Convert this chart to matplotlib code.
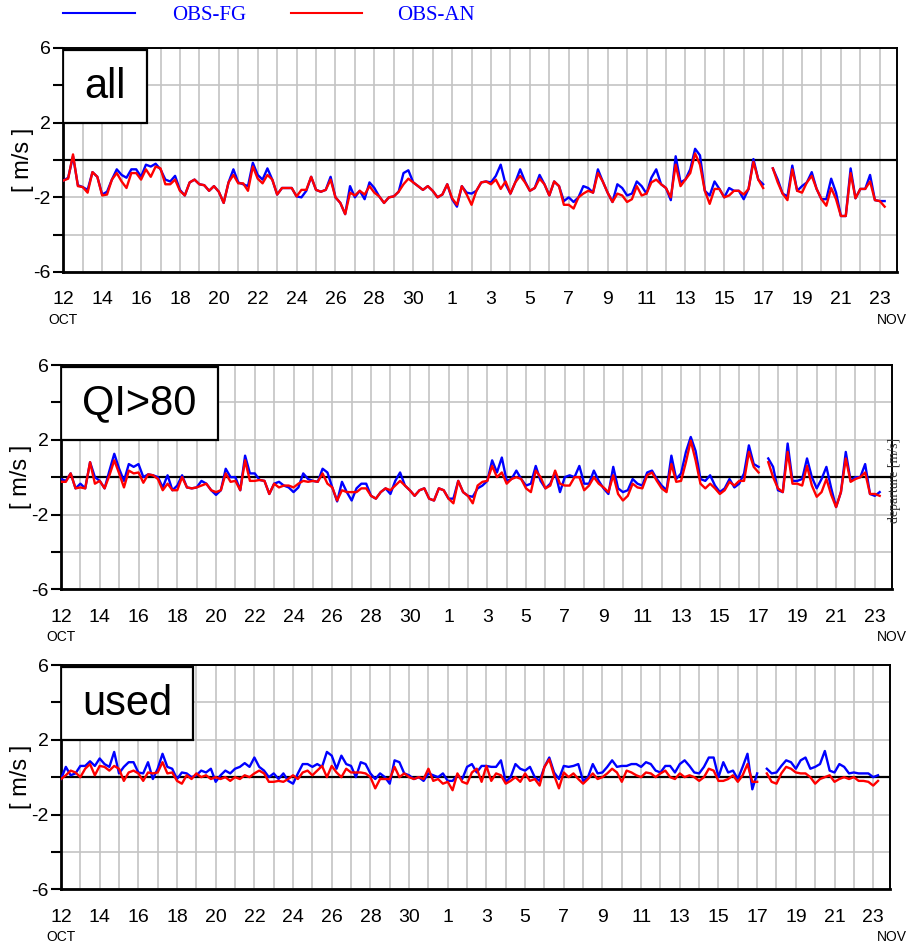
import numpy as np
import matplotlib
import matplotlib.pyplot as plt
from matplotlib.patches import Rectangle
from matplotlib.lines import Line2D

matplotlib.use("Agg")

plt.rcParams["font.family"] = ["Liberation Sans", "DejaVu Sans"]

nan = np.nan
STEP = 0.25  # 6-hourly samples, days since 12 Oct 00 UTC

# panel "all"
all_fg = [
    -1.1, -0.95, 0.2, -1.35,   -1.45, -1.6, -0.65, -0.9,   -1.85, -1.7, -1.05, -0.5,
    -0.8, -0.95, -0.5, -0.5,   -0.9, -0.25, -0.35, -0.2,   -0.5, -1.05, -1.15, -0.85,
    -1.6, -1.9, -1.2, -1.05,   -1.3, -1.35, -1.65, -1.4,   -1.7, -2.3, -1.2, -0.5,
    -1.2, -1.3, -1.4, -0.15,   -0.8, -1.05, -0.45, -1.05,  -1.85, -1.5, -1.5, -1.5,
    -1.95, -2.0, -1.65, -0.9,  -1.6, -1.7, -1.6, -0.9,     -2.0, -2.3, -2.9, -1.4,
    -2.0, -1.65, -2.1, -1.2,   -1.5, -1.95, -2.3, -2.0,    -1.95, -1.7, -0.7, -0.55,
    -1.2, -1.4, -1.6, -1.4,    -1.65, -2.0, -1.85, -1.3,   -2.1, -2.5, -1.4, -1.75,
    -1.8, -1.65, -1.2, -1.15,  -1.2, -0.85, -0.25, -1.3,   -1.8, -1.2, -0.5, -1.15,
    -1.65, -1.5, -0.8, -1.3,   -1.9, -1.15, -1.4, -2.2,    -2.0, -2.25, -2.0, -1.4,
    -1.5, -1.75, -0.5, -1.15,  -1.75, -2.25, -1.3, -1.5,   -1.9, -1.8, -1.15, -1.4,
    -1.8, -0.95, -0.5, -1.3,   -1.5, -2.15, 0.2, -1.2,     -1.05, -0.5, 0.6, 0.25,
    -1.65, -1.9, -1.15, -1.55, -2.0, -1.5, -1.65, -1.65,   -2.1, -1.55, 0.05, -1.05,
    -1.3, nan, -0.45, -1.05,   -1.8, -1.95, -0.3, -1.65,   -1.4, -1.2, -0.65, -1.55,
    -2.1, -2.1, -1.0, -1.75,   -3.0, -3.0, -0.45, -2.05,   -1.55, -1.55, -0.8, -2.15,
    -2.2, -2.2,
]
all_an = [
    -1.1, -1.0, 0.3, -1.4,     -1.45, -1.75, -0.65, -0.9,  -1.9, -1.85, -1.05, -0.7,
    -1.15, -1.5, -0.7, -0.7,   -1.05, -0.5, -0.9, -0.35,   -0.45, -1.3, -1.3, -1.05,
    -1.65, -1.9, -1.2, -1.05,  -1.3, -1.35, -1.65, -1.4,   -1.7, -2.3, -1.2, -0.8,
    -1.25, -1.25, -1.65, -0.35, -1.0, -1.25, -0.8, -1.05,  -1.85, -1.5, -1.5, -1.5,
    -1.95, -1.6, -1.6, -0.9,   -1.6, -1.7, -1.6, -1.05,    -2.0, -2.3, -2.9, -1.75,
    -1.9, -1.65, -1.85, -1.4,  -1.75, -1.95, -2.3, -2.0,   -1.95, -1.7, -1.3, -1.0,
    -1.2, -1.4, -1.6, -1.4,    -1.65, -2.0, -1.85, -1.3,   -2.05, -2.4, -1.4, -1.85,
    -2.4, -1.65, -1.2, -1.15,  -1.3, -1.05, -1.55, -1.15,  -1.8, -1.2, -0.85, -1.2,
    -1.65, -1.5, -1.0, -1.3,   -1.9, -1.15, -1.4, -2.4,    -2.4, -2.6, -2.0, -1.8,
    -1.65, -1.75, -0.7, -1.15, -1.75, -2.25, -1.8, -1.9,   -2.25, -2.1, -1.4, -1.9,
    -1.8, -1.2, -1.05, -1.3,   -1.5, -2.0, -0.25, -1.4,    -1.05, -0.7, 0.35, -0.25,
    -1.65, -2.35, -1.55, -1.55, -2.0, -1.9, -1.65, -1.65,  -1.85, -1.55, -0.1, -1.05,
    -1.5, nan, -0.45, -1.2,    -1.8, -2.15, -0.5, -1.65,   -1.75, -1.2, -0.85, -1.55,
    -2.1, -2.45, -1.5, -2.1,   -3.0, -3.0, -0.7, -2.05,    -1.55, -1.55, -1.15, -2.15,
    -2.2, -2.5,
]

# panel "QI>80"
qi_fg = [
    -0.1, -0.2, 0.2, -0.6,     -0.35, -0.6, 0.8, 0.0,      -0.2, -0.6, 0.35, 1.25,
    0.45, -0.2, 0.7, 0.55,     0.7, 0.0, 0.15, 0.1,        0.0, -0.55, 0.1, -0.7,
    -0.45, 0.1, -0.55, -0.6,   -0.55, -0.2, -0.35, -0.7,   -0.95, -0.7, 0.45, 0.0,
    0.0, -0.7, 1.15, 0.2,      0.2, -0.15, -0.2, -0.9,     -0.35, -0.25, -0.45, -0.55,
    -0.8, -0.55, 0.2, -0.1,    -0.2, -0.25, 0.45, 0.25,    -0.55, -1.3, -0.25, -0.8,
    -1.25, -0.6, -0.35, -0.35, -1.0, -1.15, -0.8, -0.6,    -0.9, -0.2, 0.25, -0.45,
    -0.7, -1.0, -0.7, -0.6,    -1.15, -1.25, -0.6, -0.7,   -1.15, -1.15, -0.2, -0.8,
    -1.0, -1.05, -0.6, -0.45,  -0.2, 0.9, 0.25, 1.05,      -0.2, -0.1, 0.35, -0.1,
    -0.45, -0.35, 0.6, -0.2,   -0.6, -0.35, 0.25, -0.8,    0.0, 0.1, 0.0, 0.6,
    -0.35, -0.35, 0.35, -0.2,  -0.6, -0.9, 0.55, -0.6,     -0.8, -0.7, -0.1, -0.35,
    -0.45, 0.25, 0.35, -0.1,   -0.45, -0.7, 1.15, -0.1,    0.2, 1.35, 2.15, 1.4,
    -0.1, -0.2, 0.1, -0.45,    -0.8, -0.6, -0.1, -0.55,    -0.35, 0.2, 1.7, 0.7,
    0.55, nan, 1.0, 0.55,      -0.7, -0.8, 1.8, -0.2,      -0.2, -0.1, 1.0, 0.0,
    -0.6, -0.1, 0.55, -0.6,    -1.6, -0.8, 1.35, -0.2,     0.0, 0.0, 0.7, -0.9,
    -1.0, -0.8,
]
qi_an = [
    -0.25, -0.25, 0.2, -0.6,   -0.55, -0.6, 0.8, -0.35,    -0.2, -0.6, 0.1, 0.9,
    0.2, -0.55, 0.35, 0.2,     0.25, -0.3, 0.15, 0.1,      -0.1, -0.7, -0.35, -0.7,
    -0.7, 0.0, -0.55, -0.6,    -0.55, -0.45, -0.35, -0.7,  -0.8, -0.7, 0.2, -0.25,
    -0.2, -0.7, 0.9, -0.2,     -0.2, -0.15, -0.2, -0.9,    -0.35, -0.55, -0.45, -0.45,
    -0.55, -0.35, -0.2, -0.25, -0.2, -0.25, 0.2, -0.35,    -0.55, -1.25, -0.7, -0.8,
    -0.8, -0.8, -0.6, -0.6,    -1.0, -1.15, -0.8, -0.6,    -0.7, -0.45, -0.2, -0.45,
    -0.7, -1.0, -0.7, -0.6,    -1.15, -1.25, -0.6, -0.7,   -1.15, -1.4, -0.2, -0.8,
    -1.0, -1.4, -0.45, -0.25,  -0.2, 0.6, 0.0, 0.25,       -0.35, -0.1, 0.0, -0.1,
    -0.6, -0.8, 0.35, 0.0,     -0.6, -0.45, 0.35, -0.35,   -0.45, -0.45, 0.0, 0.0,
    -0.7, -0.45, 0.0, -0.35,   -0.55, -0.8, 0.1, -0.9,     -1.25, -1.0, -0.35, -0.55,
    -0.6, 0.1, 0.25, -0.2,     -0.6, -0.8, 0.7, -0.25,     -0.2, 0.8, 1.95, 0.9,
    -0.35, -0.6, -0.35, -0.6,  -0.9, -0.7, -0.25, -0.45,   -0.2, -0.2, 1.35, 0.55,
    0.25, nan, 0.8, 0.0,       -0.6, -0.8, 1.35, -0.35,    -0.35, -0.45, 0.6, -0.45,
    -1.05, -0.8, -0.1, -0.95,  -1.6, -0.8, 1.0, -0.25,     -0.1, 0.0, 0.25, -0.9,
    -0.9, -1.0,
]

# panel "used"
used_fg = [
    -0.1, 0.55, 0.1, 0.2,      0.6, 0.6, 0.85, 0.6,        1.0, 0.7, 0.55, 1.35,
    0.2, 0.55, 0.8, 0.8,       0.25, 0.2, 0.8, -0.1,       0.45, 1.25, 0.55, 0.45,
    -0.1, 0.25, 0.2, 0.0,      0.1, 0.35, 0.25, 0.45,      -0.25, 0.1, 0.35, 0.2,
    0.45, 0.55, 0.75, 0.55,    1.05, 0.55, 0.35, 0.0,      0.2, -0.1, 0.2, -0.2,
    -0.35, 0.2, 0.7, 0.7,      0.55, 0.7, 0.55, 1.35,      1.15, 0.45, 1.15, 0.7,
    0.6, 0.0, 0.8, 0.7,        0.2, -0.1, 0.2, 0.0,        -0.35, 0.9, 0.8, 0.2,
    0.1, -0.1, 0.0, -0.2,      0.2, 0.1, 0.0, 0.2,         -0.2, -0.2, 0.1, -0.1,
    0.55, 0.7, 0.25, 0.6,      0.6, 0.55, 0.55, 0.9,       -0.25, 0.0, 0.7, 0.45,
    0.35, 0.55, 0.0, -0.2,     0.55, 1.05, 0.25, -0.1,     0.6, 0.55, 0.6, 0.7,
    -0.2, 0.0, 0.7, 0.2,       0.25, 0.55, 0.9, 0.55,      0.6, 0.6, 0.7, 0.7,
    0.55, 0.8, 0.7, 0.35,      0.25, 0.6, 0.6, 0.25,       0.7, 0.9, 0.6, 0.25,
    0.2, 0.55, 1.05, 1.05,     0.0, 0.8, 0.25, 0.35,       -0.1, 0.55, 1.25, -0.65,
    0.2, nan, 0.45, 0.2,       0.25, 0.6, 0.9, 0.8,        0.45, 0.9, 1.05, 0.45,
    0.55, 0.7, 1.4, 0.35,      0.25, 0.7, 0.55, 0.2,       0.25, 0.2, 0.2, 0.2,
    0.0, 0.1,
]
used_an = [
    -0.1, 0.1, 0.35, 0.25,     0.0, 0.45, 0.7, 0.1,        0.6, 0.55, 0.35, 0.6,
    0.45, -0.2, 0.25, 0.35,    0.2, -0.2, 0.25, 0.2,       0.25, 0.8, 0.2, 0.25,
    -0.2, -0.35, 0.1, -0.1,    0.2, 0.0, 0.1, -0.1,        0.0, -0.1, 0.0, -0.2,
    0.0, -0.1, 0.1, 0.0,       0.2, 0.35, 0.2, -0.25,      -0.25, -0.2, -0.25, -0.1,
    0.1, -0.1, 0.25, 0.35,     0.1, 0.35, 0.6, 0.0,        0.6, 0.25, 0.0, 0.45,
    0.25, 0.25, 0.25, 0.2,     0.0, -0.6, -0.1, -0.1,      -0.1, 0.55, 0.0, 0.2,
    0.0, -0.1, 0.0, -0.1,      0.45, -0.2, -0.1, -0.35,    -0.25, -0.7, 0.2, -0.25,
    -0.35, 0.25, 0.45, -0.25,  0.6, -0.2, 0.2, 0.1,        -0.35, -0.2, 0.0, -0.25,
    0.2, -0.2, -0.1, -0.45,    0.55, 0.95, 0.1, -0.6,      0.25, 0.0, 0.2, -0.1,
    -0.35, -0.1, 0.2, -0.1,    0.0, 0.2, 0.45, 0.25,       -0.25, 0.35, 0.25, 0.1,
    0.0, 0.25, 0.2, 0.0,       0.2, 0.35, 0.0, -0.1,       0.2, 0.0, 0.1, 0.0,
    -0.2, 0.0, 0.45, 0.35,     -0.2, -0.2, -0.1, 0.1,      -0.25, 0.1, 0.7, -0.25,
    -0.25, nan, 0.2, -0.25,    -0.35, 0.2, 0.55, 0.45,     0.25, 0.2, 0.2, 0.0,
    -0.35, -0.1, 0.0, 0.1,     -0.25, -0.1, 0.0, -0.1,     0.0, -0.2, -0.2, -0.25,
    -0.45, -0.2,
]

tick_days = list(range(0, 43, 2))
tick_labels = ["12", "14", "16", "18", "20", "22", "24", "26", "28", "30",
               "1", "3", "5", "7", "9", "11", "13", "15", "17", "19", "21", "23"]

W, H = 909, 944
fig = plt.figure(figsize=(W / 100, H / 100), dpi=100)

# name, fg, an, axes rect in pixels (left, top, right, bottom), box width px
panels = [
    ("all", all_fg, all_an, (63.3, 48, 896.7, 272), 84),
    ("QI>80", qi_fg, qi_an, (61, 365, 891.7, 589.3), 157),
    ("used", used_fg, used_an, (61, 665, 890, 889.3), 132),
]

for name, fg, an, (l, t, r, b), box_w in panels:
    ax = fig.add_axes([l / W, 1 - b / H, (r - l) / W, (b - t) / H])
    x = np.arange(len(fg)) * STEP
    ax_w = r - l
    ax_h = b - t

    ax.set_xlim(0, 42.87)
    ax.set_ylim(-6, 6)

    ax.set_xticks(tick_days)
    ax.set_xticklabels(tick_labels, fontsize=14)
    ax.set_xticks(range(0, 43), minor=True)
    ax.tick_params(axis="x", which="both", length=0, pad=14)

    ax.set_yticks(range(-6, 7, 2))
    ax.set_yticklabels(["-6", "", "-2", "", "2", "", "6"], fontsize=14)
    ax.tick_params(axis="y", length=7, width=1.5, pad=2)

    ax.grid(True, which="both", axis="x", color="#c4c4c4", lw=1.2)
    ax.grid(True, which="major", axis="y", color="#c4c4c4", lw=1.2)
    ax.set_axisbelow(True)
    ax.axhline(0, color="black", lw=1.6, zorder=2)

    ax.plot(x, fg, color="#0000ff", lw=1.7, zorder=3)
    ax.plot(x, an, color="#ff0000", lw=1.7, zorder=4)

    for side in ["left", "bottom"]:
        ax.spines[side].set_linewidth(2.0)
    for side in ["top", "right"]:
        ax.spines[side].set_linewidth(1.4)

    # label box in the upper left corner
    rect = Rectangle((0.0, 0.665), box_w / ax_w, 0.325, transform=ax.transAxes,
                     facecolor="white", edgecolor="black", lw=1.6, zorder=6)
    ax.add_patch(rect)
    ax.text(box_w / ax_w / 2, 0.665 + 0.325 / 2, name, transform=ax.transAxes,
            ha="center", va="center", fontsize=30, zorder=7)

    ax.text(-40 / ax_w, 0.5, "[ m/s ]", transform=ax.transAxes, rotation=90,
            ha="center", va="center", fontsize=17)
    ax.text(0.0, -48 / ax_h, "OCT", transform=ax.transAxes,
            ha="center", va="center", fontsize=10)
    ax.text((907 - l) / ax_w, -48 / ax_h, "NOV", transform=ax.transAxes,
            ha="right", va="center", fontsize=10)

# side note on the middle panel
fig.text(894.5 / W, 1 - 480 / H, "departure [m/s]", rotation=90,
         ha="center", va="center", fontsize=10, color="#333333",
         family=["Liberation Serif", "DejaVu Serif"])

# legend strip at the top
fig.add_artist(Line2D([63 / W, 135 / W], [1 - 13 / H, 1 - 13 / H],
                      color="#0000ff", lw=1.5))
fig.add_artist(Line2D([291 / W, 362 / W], [1 - 13 / H, 1 - 13 / H],
                      color="#ff0000", lw=1.5))
fig.text(209 / W, 1 - 15 / H, "OBS-FG", ha="center", va="center",
         fontsize=15, color="#0000ff", family=["Liberation Serif", "DejaVu Serif"])
fig.text(436 / W, 1 - 15 / H, "OBS-AN", ha="center", va="center",
         fontsize=15, color="#0000ff", family=["Liberation Serif", "DejaVu Serif"])

fig.savefig("out.png", dpi=100)
plt.close(fig)
